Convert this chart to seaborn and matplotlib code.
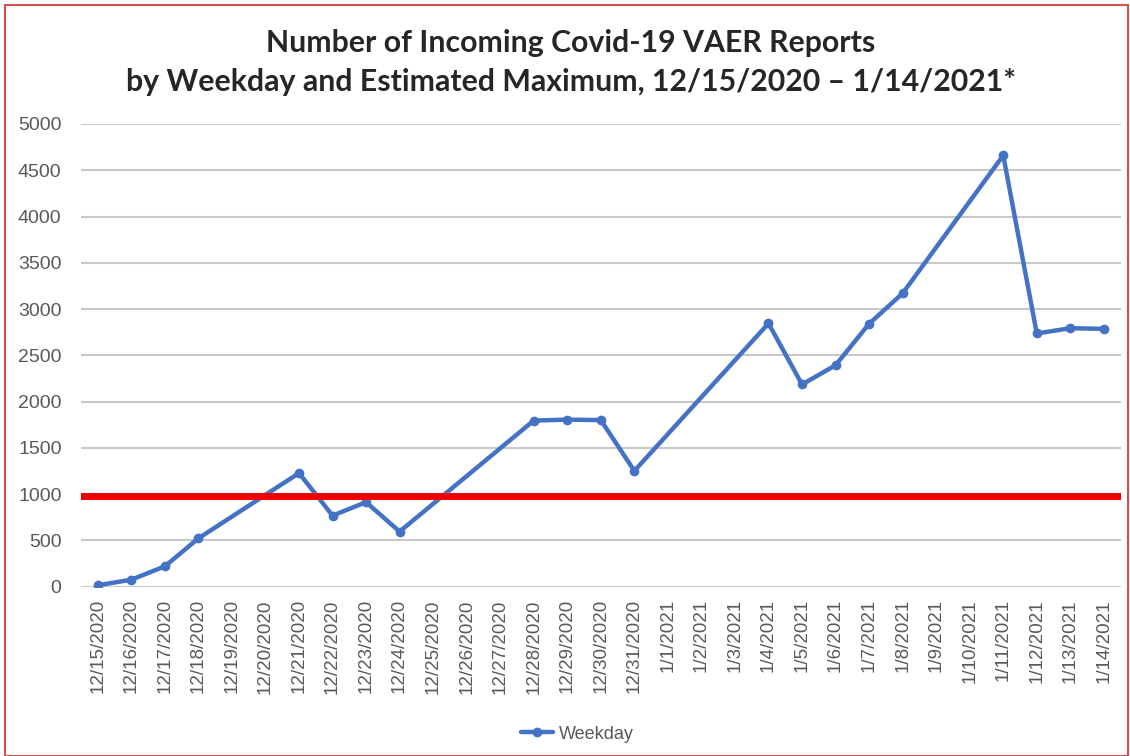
import pandas as pd
import numpy as np
import seaborn as sns
import matplotlib.pyplot as plt
from matplotlib.patches import Rectangle

# Dates on the x axis (every calendar day) and weekday report counts (weekends blank)
dates = ['12/15/2020', '12/16/2020', '12/17/2020', '12/18/2020', '12/19/2020',
         '12/20/2020', '12/21/2020', '12/22/2020', '12/23/2020', '12/24/2020',
         '12/25/2020', '12/26/2020', '12/27/2020', '12/28/2020', '12/29/2020',
         '12/30/2020', '12/31/2020', '1/1/2021', '1/2/2021', '1/3/2021',
         '1/4/2021', '1/5/2021', '1/6/2021', '1/7/2021', '1/8/2021',
         '1/9/2021', '1/10/2021', '1/11/2021', '1/12/2021', '1/13/2021',
         '1/14/2021']
weekday = [15, 75, 220, 522, None, None, 1227, 768, 913, 595,
           None, None, None, 1795, 1805, 1800, 1251, None, None, None,
           2845, 2185, 2393, 2841, 3170, None, None, 4660, 2736, 2793,
           2786]
est_max = 978

sns.set_style('white')
plt.rcParams['font.family'] = ['Liberation Sans', 'DejaVu Sans']

df = pd.DataFrame({'date': dates, 'Weekday': weekday})
df['pos'] = np.arange(len(df))
pts = df.dropna()

fig = plt.figure(figsize=(11.3, 7.56), dpi=100)
ax = fig.add_axes([0.0717, 0.224, 0.92, 0.612])

blue = '#4472C4'
sns.lineplot(data=pts, x='pos', y='Weekday', ax=ax, color=blue, lw=3.2,
             marker='o', markersize=7, markeredgewidth=0, label='Weekday')
ax.axhline(est_max, color='#EE0000', lw=5, zorder=3)

ax.set_xlim(-0.5, len(dates) - 0.5)
ax.set_ylim(0, 5000)
ax.set_yticks(range(0, 5001, 500))
ax.set_xticks(df['pos'])
ax.set_xticklabels(dates, rotation=90)
ax.tick_params(colors='#595959', length=0)
ax.tick_params(axis='x', labelsize=13.5, pad=9)
ax.tick_params(axis='y', labelsize=14, pad=14)
ax.yaxis.grid(True, color='#C8C8C8', lw=1.5)
ax.set_axisbelow(True)
for s in ax.spines.values():
    s.set_visible(False)
ax.set_xlabel('')
ax.set_ylabel('')

ax.legend(loc='upper center', bbox_to_anchor=(0.477, -0.265), frameon=False,
          fontsize=13, labelcolor='#595959', handlelength=1.8, handletextpad=0.3)

fig.text(0.505, 0.917, 'Number of Incoming Covid-19 VAER Reports\n'
         'by Weekday and Estimated Maximum, 12/15/2020 \u2013 1/14/2021*',
         ha='center', va='center', fontsize=21.8, fontweight='bold',
         family=['Lato', 'DejaVu Sans'], linespacing=1.5)

fig.patches.append(Rectangle((0.004, 0.0), 0.994, 0.994, transform=fig.transFigure,
                             fill=False, edgecolor='#D05050', lw=1.5))

fig.savefig('out.png', dpi=100)
